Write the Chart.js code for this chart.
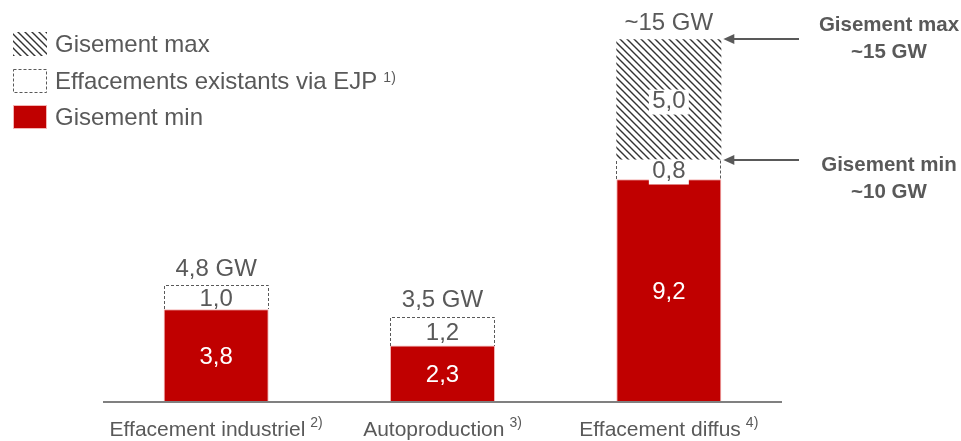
<!DOCTYPE html>
<html>
<head>
<meta charset="utf-8">
<script src="https://cdn.jsdelivr.net/npm/chart.js@4/dist/chart.umd.min.js"></script>
<style>
  html, body { margin: 0; padding: 0; background: #ffffff; }
  #wrap { width: 961px; height: 441px; }
</style>
</head>
<body>
<div id="wrap"><canvas id="c" width="961" height="441"></canvas></div>
<script>
// Categories and their footnote markers
const categories = ['Effacement industriel', 'Autoproduction', 'Effacement diffus'];
const categoryNotes = ['2)', '3)', '4)'];

// Stacked series (GW)
const gisementMin = [3.8, 2.3, 9.2];
const effacementsEJP = [1.0, 1.2, 0.8];
const gisementMax = [0, 0, 5.0];

// Labels above each stack
const totalLabels = ['4,8 GW', '3,5 GW', '~15 GW'];

// Legend entries (top to bottom)
const legendNames = ['Gisement max', 'Effacements existants via EJP', 'Gisement min'];
const legendNotes = ['', '1)', ''];

// Side annotations for the last stack
const annotationTitles = ['Gisement max', 'Gisement min'];
const annotationValues = ['~15 GW', '~10 GW'];
const annotationLevels = [15, 10];

const FONT = '"Liberation Sans", Arial, sans-serif';
const GREY = '#595959';
const RED = '#C00000';
const RED_EDGE = '#F4B4B4';

const canvas = document.getElementById('c');
const ctx = canvas.getContext('2d');

function makeHatch(context) {
  const s = 7;
  const c = document.createElement('canvas');
  c.width = s; c.height = s;
  const g = c.getContext('2d');
  g.fillStyle = '#ffffff';
  g.fillRect(0, 0, s, s);
  g.strokeStyle = '#333333';
  g.lineWidth = 1.4;
  g.beginPath();
  g.moveTo(-1, -1); g.lineTo(s + 1, s + 1);
  g.moveTo(-1, s - 1); g.lineTo(1, s + 1);
  g.moveTo(s - 1, -1); g.lineTo(s + 1, 1);
  g.stroke();
  return context.createPattern(c, 'repeat');
}
const hatch = makeHatch(ctx);

function fmt(v) { return v.toFixed(1).replace('.', ','); }

// Draw text so that the middle of the capitals sits on capCenter
function capText(c, txt, x, capCenter, size, color, weight, align) {
  c.font = (weight || 'normal') + ' ' + size + 'px ' + FONT;
  c.fillStyle = color;
  c.textAlign = align || 'center';
  c.textBaseline = 'alphabetic';
  c.fillText(txt, x, capCenter + 0.358 * size);
}

const decorations = {
  id: 'decorations',
  afterDatasetsDraw(chart) {
    const c = chart.ctx;
    const yScale = chart.scales.y;
    const xScale = chart.scales.x;
    const area = chart.chartArea;
    const metaMin = chart.getDatasetMeta(0);
    const metaEjp = chart.getDatasetMeta(1);
    const metaMax = chart.getDatasetMeta(2);

    c.save();

    // Dashed outline around the EJP segments
    c.strokeStyle = GREY;
    c.lineWidth = 1;
    c.setLineDash([3, 2]);
    metaEjp.data.forEach((el, i) => {
      if (!effacementsEJP[i]) return;
      const half = el.width / 2;
      const l = Math.round(el.x - half) + 0.5;
      const r = Math.round(el.x + half) - 0.5;
      const t = Math.round(el.y) + 0.5;
      const b = Math.round(el.base);
      c.beginPath();
      c.moveTo(l, b); c.lineTo(l, t);
      if (!gisementMax[i]) c.lineTo(r, t); else c.moveTo(r, t);
      c.lineTo(r, b);
      c.stroke();
    });
    c.setLineDash([]);

    // Axis baseline
    const y0 = yScale.getPixelForValue(0);
    c.strokeStyle = '#808080';
    c.lineWidth = 2;
    c.beginPath();
    c.moveTo(area.left, y0 + 1);
    c.lineTo(area.right, y0 + 1);
    c.stroke();

    // Segment value labels
    const segLabel = (meta, values, color, boxed) => {
      meta.data.forEach((el, i) => {
        const v = values[i];
        if (!v) return;
        const cy = (el.y + el.base) / 2;
        if (boxed(i)) {
          c.fillStyle = '#ffffff';
          c.fillRect(el.x - 20, cy - 10, 40, 25);
        }
        capText(c, fmt(v), el.x, cy, 24, color);
      });
    };
    segLabel(metaMin, gisementMin, '#ffffff', () => false);
    segLabel(metaMax, gisementMax, GREY, () => true);
    segLabel(metaEjp, effacementsEJP, GREY, (i) => gisementMax[i] > 0);

    // Totals above each stack
    categories.forEach((cat, i) => {
      const total = gisementMin[i] + effacementsEJP[i] + gisementMax[i];
      const top = yScale.getPixelForValue(total);
      capText(c, totalLabels[i], xScale.getPixelForValue(i), top - 18, 24, GREY);
    });

    // Category labels with footnote markers
    categories.forEach((cat, i) => {
      const cx = xScale.getPixelForValue(i);
      c.font = '21px ' + FONT;
      const w1 = c.measureText(cat).width;
      c.font = '14px ' + FONT;
      const w2 = c.measureText(categoryNotes[i]).width;
      const gap = 5;
      const start = cx - (w1 + gap + w2) / 2;
      capText(c, cat, start, 428, 21, GREY, 'normal', 'left');
      capText(c, categoryNotes[i], start + w1 + gap, 422, 14, GREY, 'normal', 'left');
    });

    // Arrows and annotations on the right
    const lastEl = metaMin.data[2];
    const tipX = lastEl.x + lastEl.width / 2 + 2;
    const tailX = 799;
    const textX = 889;
    annotationLevels.forEach((lvl) => {
      const ay = Math.round(yScale.getPixelForValue(lvl));
      c.strokeStyle = GREY;
      c.fillStyle = GREY;
      c.lineWidth = 2;
      c.beginPath();
      c.moveTo(tailX, ay); c.lineTo(tipX + 8, ay);
      c.stroke();
      c.beginPath();
      c.moveTo(tipX, ay);
      c.lineTo(tipX + 11, ay - 5);
      c.lineTo(tipX + 11, ay + 5);
      c.closePath();
      c.fill();
    });
    const titleCenters = [24, 164];
    const valueCenters = [50.5, 190.5];
    annotationTitles.forEach((t, k) => {
      capText(c, t, textX, titleCenters[k], 20.5, GREY, 'bold');
      capText(c, annotationValues[k], textX, valueCenters[k], 20.5, GREY, 'bold');
    });

    c.restore();
  },
  afterDraw(chart) {
    // Legend
    const c = chart.ctx;
    c.save();
    const boxX = 13, boxW = 34, boxH = 24;
    const centers = [43.5, 80.5, 116.5];
    const fills = [hatch, '#ffffff', RED];
    legendNames.forEach((name, k) => {
      const top = Math.round(centers[k] - boxH / 2);
      if (k === 2) {
        c.fillStyle = RED_EDGE;
        c.fillRect(boxX, top, boxW, boxH);
        c.fillStyle = RED;
        c.fillRect(boxX + 1, top + 1, boxW - 2, boxH - 2);
      } else {
        c.fillStyle = fills[k];
        c.fillRect(boxX, top, boxW, boxH);
      }
      if (k === 1) {
        c.strokeStyle = GREY;
        c.lineWidth = 1;
        c.setLineDash([3, 2]);
        c.strokeRect(boxX + 0.5, top + 0.5, boxW - 1, boxH - 1);
        c.setLineDash([]);
      }
      capText(c, name, 55, centers[k], 24, GREY, 'normal', 'left');
      if (legendNotes[k]) {
        c.font = '24px ' + FONT;
        const w = c.measureText(name).width;
        capText(c, legendNotes[k], 55 + w + 6, centers[k] - 4, 14, GREY, 'normal', 'left');
      }
    });
    c.restore();
  }
};

new Chart(ctx, {
  type: 'bar',
  data: {
    labels: categories,
    datasets: [
      {
        label: legendNames[2],
        data: gisementMin,
        backgroundColor: RED,
        borderColor: RED_EDGE,
        borderWidth: { top: 1, left: 1, right: 1, bottom: 0 },
        borderSkipped: false
      },
      {
        label: legendNames[1],
        data: effacementsEJP,
        backgroundColor: '#ffffff',
        borderWidth: 0
      },
      {
        label: legendNames[0],
        data: gisementMax,
        backgroundColor: hatch,
        borderWidth: 0
      }
    ]
  },
  options: {
    responsive: false,
    animation: false,
    devicePixelRatio: 1,
    layout: { padding: { top: 20, bottom: 40, left: 103, right: 179 } },
    plugins: { legend: { display: false }, tooltip: { enabled: false } },
    datasets: { bar: { categoryPercentage: 0.5, barPercentage: 0.928 } },
    scales: {
      x: { display: false, stacked: true },
      y: { display: false, stacked: true, min: 0, max: 15.8 }
    }
  },
  plugins: [decorations]
});
</script>
</body>
</html>
